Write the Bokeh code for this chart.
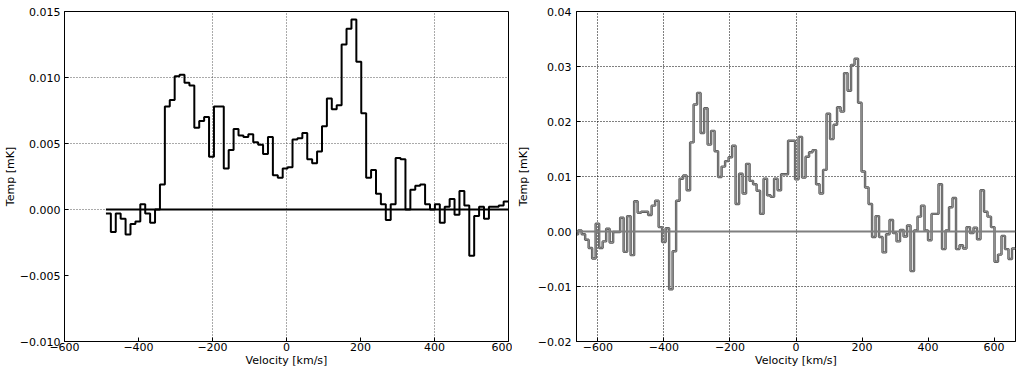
import numpy as np
from bokeh.plotting import figure
from bokeh.layouts import row
from bokeh.models import FixedTicker, CustomJSTickFormatter, Range1d, Span
from bokeh.embed import file_html
from bokeh.resources import INLINE

# ---------------- data ----------------
# left spectrum: first channel edge (km/s), channel width (km/s), temperatures
left_v_start = -488.0
left_width = 13.27
left_temp = [
    -0.0003, -0.0017, -0.0003, -0.0007, -0.0019, -0.0011, -0.0009, 0.0004, -0.0003, -0.0010,
    0.0000, 0.0019, 0.0078, 0.0083, 0.0101, 0.0102, 0.0096, 0.0094, 0.0062, 0.0067,
    0.0070, 0.0040, 0.0078, 0.0078, 0.0031, 0.0045, 0.0061, 0.0056, 0.0055, 0.0057,
    0.0051, 0.0049, 0.0042, 0.0055, 0.0026, 0.0024, 0.0031, 0.0032, 0.0053, 0.0054,
    0.0058, 0.0038, 0.0035, 0.0044, 0.0063, 0.0084, 0.0076, 0.0079, 0.0125, 0.0137,
    0.0144, 0.0112, 0.0073, 0.0024, 0.0030, 0.0012, 0.0004, -0.0008, 0.0004, 0.0039,
    0.0038, 0.0000, 0.0015, 0.0018, 0.0019, 0.0004, 0.0000, 0.0004, -0.0010, 0.0002,
    0.0008, -0.0004, 0.0014, 0.0003, -0.0035, -0.0005, 0.0002, -0.0007, 0.0002, 0.0002,
    0.0003, 0.0006,
]

# right spectrum
right_v_start = -670.6
right_width = 10.6
right_temp = [
    -0.0005,
    0.0002, -0.0005, -0.0015, -0.0030, -0.0049, 0.0014, -0.0030, -0.0018, 0.0005, -0.0020,
    -0.0001, -0.0001, 0.0025, -0.0037, 0.0028, -0.0043, 0.0055, 0.0034, 0.0036, 0.0036,
    0.0030, 0.0047, 0.0056, 0.0008, -0.0019, 0.0006, -0.0105, -0.0036, 0.0056, 0.0096,
    0.0102, 0.0075, 0.0162, 0.0231, 0.0252, 0.0179, 0.0224, 0.0158, 0.0183, 0.0146,
    0.0099, 0.0118, 0.0128, 0.0135, 0.0156, 0.0050, 0.0105, 0.0069, 0.0123, 0.0092,
    0.0086, 0.0074, 0.0032, 0.0096, 0.0066, 0.0063, 0.0096, 0.0075, 0.0104, 0.0104,
    0.0165, 0.0165, 0.0095, 0.0172, 0.0098, 0.0136, 0.0144, 0.0148, 0.0086, 0.0069,
    0.0112, 0.0214, 0.0168, 0.0194, 0.0226, 0.0218, 0.0288, 0.0256, 0.0303, 0.0314,
    0.0234, 0.0109, 0.0080, 0.0050, -0.0010, 0.0028, -0.0010, -0.0038, -0.0005, 0.0021,
    -0.0003, -0.0018, 0.0003, -0.0009, 0.0011, -0.0072, 0.0002, 0.0027, 0.0047, 0.0002,
    -0.0016, 0.0032, 0.0032, 0.0086, -0.0032, 0.0002, 0.0044, 0.0061, -0.0032, -0.0025,
    -0.0031, 0.0008, -0.0003, 0.0007, -0.0014, 0.0075, 0.0036, 0.0027, 0.0008, -0.0055,
    -0.0042, -0.0008, -0.0032, -0.0050, -0.0031,
]

left_xticks = [-600, -400, -200, 0, 200, 400, 600]
left_yticks = [-0.010, -0.005, 0.000, 0.005, 0.010, 0.015]
right_xticks = [-600, -400, -200, 0, 200, 400, 600]
right_yticks = [-0.02, -0.01, 0.00, 0.01, 0.02, 0.03, 0.04]
left_xgrid = [-200, 0, 400]
left_ygrid = [0.000, 0.005, 0.010]
right_xgrid = [-600, -400, -200, 0]
right_ygrid = [-0.01, 0.01, 0.02, 0.03]

x_label = "Velocity [km/s]"
y_label = "Temp [mK]"

FONT = "DejaVu Sans"


def fmt(decimals):
    return CustomJSTickFormatter(code="""
        const s = Math.abs(tick).toFixed(%d);
        return (tick < -1e-12 ? "\\u2212" : "") + s;
    """ % decimals)


def style(p, xt, yt, xg, yg, ydec, grid_color, ylab_standoff, ytick_standoff):
    p.xaxis.ticker = FixedTicker(ticks=xt)
    p.yaxis.ticker = FixedTicker(ticks=yt)
    p.xaxis.formatter = fmt(0)
    p.yaxis.formatter = fmt(ydec)
    p.xgrid.ticker = FixedTicker(ticks=xg)
    p.ygrid.ticker = FixedTicker(ticks=yg)
    for g in (p.xgrid, p.ygrid):
        g.grid_line_color = grid_color
        g.grid_line_dash = "1 2"
        g.grid_line_width = 1
    for ax in (p.xaxis, p.yaxis):
        ax.major_label_text_font = FONT
        ax.major_label_text_font_size = "11px"
        ax.major_label_text_color = "black"
        ax.axis_label_text_font = FONT
        ax.axis_label_text_font_size = "11px"
        ax.axis_label_text_font_style = "normal"
        ax.axis_label_text_color = "black"
        ax.axis_line_color = "black"
        ax.major_tick_in = 4
        ax.major_tick_out = 0
        ax.minor_tick_line_color = None
        ax.major_tick_line_color = "black"
    p.xaxis.major_label_standoff = 1
    p.xaxis.axis_label_standoff = 0
    p.yaxis.major_label_standoff = ytick_standoff
    p.yaxis.axis_label_standoff = ylab_standoff
    p.xaxis.axis_label = x_label
    p.yaxis.axis_label = y_label
    p.outline_line_color = "black"
    p.outline_line_width = 1
    p.background_fill_color = "white"
    p.border_fill_color = "white"


# ---------------- left panel ----------------
p1 = figure(width=512, height=369, output_backend="svg", toolbar_location=None,
            x_range=Range1d(-600, 600), y_range=Range1d(-0.010, 0.015),
            min_border_left=62, min_border_right=4, min_border_top=4, min_border_bottom=0)
style(p1, left_xticks, left_yticks, left_xgrid, left_ygrid, 3, "#555555", 0, 4)

l_edges = left_v_start + left_width * np.arange(len(left_temp) + 1)
l_vals = list(left_temp) + [left_temp[-1]]
p1.line([l_edges[0], l_edges[-1]], [0, 0], line_color="black", line_width=2)
p1.step(l_edges, l_vals, mode="after", line_color="black", line_width=2)

# ---------------- right panel ----------------
p2 = figure(width=504, height=369, output_backend="svg", toolbar_location=None,
            x_range=Range1d(-665, 665), y_range=Range1d(-0.02, 0.04),
            min_border_left=64, min_border_right=1, min_border_top=11, min_border_bottom=0)
style(p2, right_xticks, right_yticks, right_xgrid, right_ygrid, 2, "black", 5, 5)

r_edges = right_v_start + right_width * np.arange(len(right_temp) + 1)
r_vals = list(right_temp) + [right_temp[-1]]
p2.add_layout(Span(location=0, dimension="width", line_color="#7f7f7f", line_width=2))
p2.step(r_edges, r_vals, mode="after", line_color="#555555", line_width=2.4)
p2.step(r_edges, r_vals, mode="after", line_color="#a8a8a8", line_width=0.7)

layout = row(p1, p2)
open("out.html", "w").write(file_html(layout, INLINE))
